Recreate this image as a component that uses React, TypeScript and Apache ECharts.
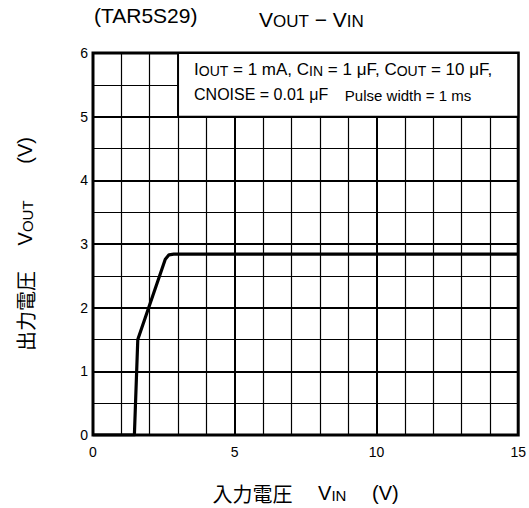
import React, { useEffect, useRef } from "react";
import * as echarts from "echarts";

// Curve: output voltage vs input voltage
const curveVin = [0, 1.46, 1.58, 2.55, 2.68, 2.85, 15];
const curveVout = [0, 0, 1.5, 2.76, 2.83, 2.84, 2.84];

const xRange = [0, 15];
const yRange = [0, 6];
const xMajorStep = 5;
const yMajorStep = 1;
const xMinorSplit = 5;
const yMinorSplit = 2;

// conditions box (in data units)
const boxVin = [3, 15];
const boxVout = [5, 6];

const titleDevice = "(TAR5S29)";
const xName = ["入力電圧", "IN", "(V)"];
const yName = ["出力電圧", "OUT", "(V)"];

export default function App() {
  const ref = useRef<HTMLDivElement>(null);
  useEffect(() => {
    const chart = echarts.init(ref.current!, null, { renderer: "svg" });
    const font = "'Liberation Sans', Arial, 'Noto Sans CJK JP', sans-serif";
    const cjk = "'Noto Sans CJK JP', sans-serif";

    const data = curveVin.map((x, i) => [x, curveVout[i]]);

    const subRich = (main: number, sub: number) => ({
      m: { fontSize: main, fontFamily: font, color: "#000", lineHeight: main + 4, verticalAlign: "bottom" },
      s: { fontSize: sub, fontFamily: font, color: "#000", lineHeight: main + 2, verticalAlign: "bottom" },
      j: { fontSize: main, fontFamily: cjk, color: "#000", lineHeight: main + 4, verticalAlign: "bottom" },
    });

    chart.setOption({
      animation: false,
      grid: {
        left: 93,
        right: 10,
        top: 53,
        bottom: 70,
        show: true,
        borderColor: "#000",
        borderWidth: 3,
        backgroundColor: "#fff",
      },
      xAxis: {
        type: "value",
        min: xRange[0],
        max: xRange[1],
        interval: xMajorStep,
        axisLine: { show: false },
        axisTick: { show: false },
        axisLabel: { color: "#000", fontSize: 14, fontFamily: font, margin: 10 },
        splitLine: { show: true, lineStyle: { color: "#000", width: 2 } },
        minorTick: { show: false, splitNumber: xMinorSplit },
        minorSplitLine: { show: true, lineStyle: { color: "#000", width: 1.2 } },
        name: `{j|${xName[0]}}{m|　 V}{s|${xName[1]}}{m|　 ${xName[2]}}`,
        nameLocation: "middle",
        nameGap: 44,
        nameTextStyle: { rich: subRich(20, 15) },
      },
      yAxis: {
        type: "value",
        min: yRange[0],
        max: yRange[1],
        interval: yMajorStep,
        axisLine: { show: false },
        axisTick: { show: false },
        axisLabel: { color: "#000", fontSize: 14, fontFamily: font, margin: 5 },
        splitLine: { show: true, lineStyle: { color: "#000", width: 2 } },
        minorTick: { show: false, splitNumber: yMinorSplit },
        minorSplitLine: { show: true, lineStyle: { color: "#000", width: 1.2 } },
        name: `{j|${yName[0]}}{m|　 V}{s|${yName[1]}}{m|　   ${yName[2]}}`,
        nameLocation: "middle",
        nameGap: 58,
        nameRotate: 90,
        nameTextStyle: { rich: subRich(20, 15) },
      },
      graphic: [
        {
          type: "text",
          x: 94,
          y: 15,
          style: {
            text: titleDevice,
            fontSize: 21,
            fontFamily: font,
            fill: "#000",
            verticalAlign: "middle",
          },
        },
        {
          type: "text",
          x: 259,
          y: 5,
          style: {
            text: "{m|V}{s|OUT}{m| − V}{s|IN}",
            verticalAlign: "top",
            rich: subRich(21, 17),
          },
        },
      ],
      series: [
        {
          type: "line",
          data,
          showSymbol: false,
          symbol: "none",
          lineStyle: { color: "#000", width: 3.2, join: "round" },
          z: 5,
          markArea: {
            silent: true,
            itemStyle: { color: "#fff", borderColor: "#000", borderWidth: 2 },
            label: {
              show: true,
              position: "insideTopLeft",
              distance: 0,
              padding: [1, 0, 0, 17],
              color: "#000",
              formatter:
                "{m|I}{s|OUT}{m| = 1 mA, C}{s|IN}{m| = 1 μF, C}{s|OUT}{m| = 10 μF,}\n{cn|CNOISE = 0.01 μF}{pulse|    Pulse width = 1 ms}",
              rich: {
                m: { fontSize: 17, fontFamily: font, color: "#000", lineHeight: 25, verticalAlign: "bottom" },
                s: { fontSize: 14, fontFamily: font, color: "#000", lineHeight: 23, verticalAlign: "bottom" },
                cn: { fontSize: 16, fontFamily: font, color: "#000", lineHeight: 25, verticalAlign: "bottom" },
                pulse: { fontSize: 15, fontFamily: font, color: "#000", lineHeight: 25, verticalAlign: "bottom" },
              },
            },
            data: [[{ xAxis: boxVin[0], yAxis: boxVout[0] }, { xAxis: boxVin[1], yAxis: boxVout[1] }]],
          },
        },
      ],
    });
    return () => chart.dispose();
  }, []);
  return (
    <div
      ref={ref}
      style={{ position: "absolute", left: 0, top: 0, width: 529, height: 508, background: "#fff" }}
    />
  );
}
